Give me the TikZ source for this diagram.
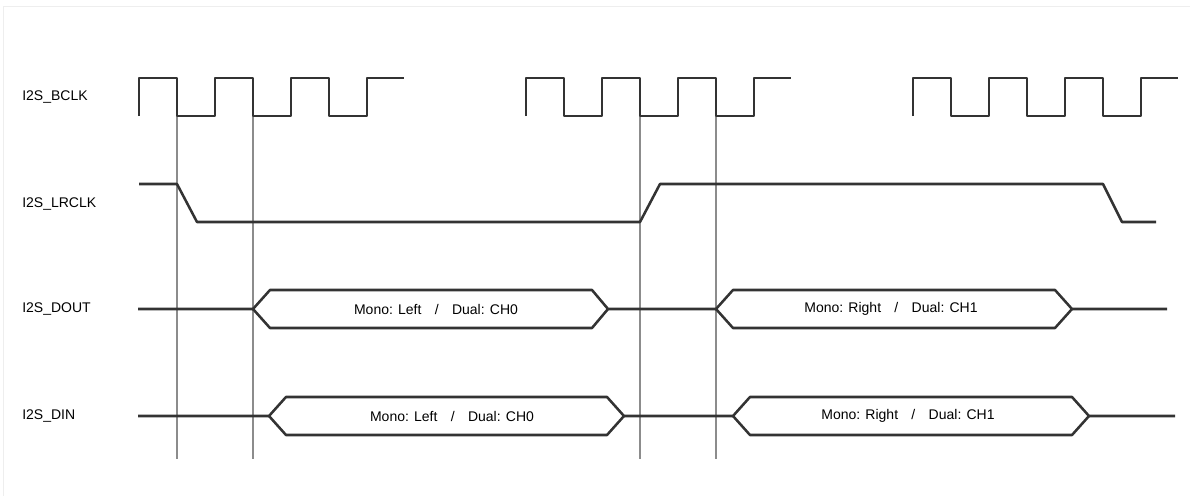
\documentclass[tikz,border=0pt]{standalone}
\usepackage{fontspec}
\setmainfont{Liberation Sans}
\definecolor{wavegray}{HTML}{333333}
\definecolor{guidegray}{HTML}{8C8C8C}
\definecolor{framegray}{HTML}{EEEEEE}
\tikzset{
  sig/.style={draw=wavegray,line width=1.9pt,line join=round},
  guideline/.style={draw=guidegray,line width=0.8pt},
  siglabel/.style={anchor=west,inner sep=0pt,font=\fontsize{10.5}{12}\selectfont},
  buslabel/.style={inner sep=0pt,font=\fontsize{10.5}{12}\selectfont}
}
\newcommand{\slashgap}{\hspace{10pt}/\hspace{10pt}}
\begin{document}
\begin{tikzpicture}[x=0.75pt,y=-0.75pt]
    \useasboundingbox (0,0) rectangle (1190,496);
    \draw[framegray,line width=0.75pt] (3,496) -- (3,6) -- (1190,6);

    % signal names
    \node[siglabel] (bclk) at (22,97) {I2S\_BCLK};
    \node[siglabel] (lrclk) at (22,204) {I2S\_LRCLK};
    \node[siglabel] (dout) at (22,309) {I2S\_DOUT};
    \node[siglabel] (din) at (22,416) {I2S\_DIN};

    % guide lines at the sampling edges
    \foreach \x in {177,253,640,716}
        \draw[guideline] (\x,116) -- (\x,459);

    % bit clock, three bursts
    \foreach \s in {139,526,913}
        \draw[sig] (\s,116) -- ++(0,-38) -- ++(38,0) -- ++(0,38) -- ++(38,0)
            -- ++(0,-38) -- ++(38,0) -- ++(0,38) -- ++(38,0)
            -- ++(0,-38) -- ++(38,0) -- ++(0,38) -- ++(38,0)
            -- ++(0,-38) -- ++(37,0);

    % word select
    \draw[sig] (139,184) -- (177,184) -- (197,222) -- (640,222) -- (660,184)
        -- (1103,184) -- (1122,222) -- (1156,222);

    % data out
    \draw[sig] (138,309) -- (253,309) -- (270,290) -- (592,290) -- (608,309)
        -- (716,309) -- (733,290) -- (1055,290) -- (1072,309) -- (1167,309);
    \draw[sig] (253,309) -- (270,328) -- (592,328) -- (608,309);
    \draw[sig] (716,309) -- (733,328) -- (1055,328) -- (1072,309);
    \node[buslabel] (dout0) at (436,309) {Mono: Left\slashgap Dual: CH0};
    \node[buslabel] (dout1) at (891,309) {Mono: Right\slashgap Dual: CH1};

    % data in
    \draw[sig] (138,416) -- (269,416) -- (286,397) -- (607,397) -- (624,416)
        -- (733,416) -- (750,397) -- (1072,397) -- (1089,416) -- (1175,416);
    \draw[sig] (269,416) -- (286,435) -- (607,435) -- (624,416);
    \draw[sig] (733,416) -- (750,435) -- (1072,435) -- (1089,416);
    \node[buslabel] (din0) at (452,416) {Mono: Left\slashgap Dual: CH0};
    \node[buslabel] (din1) at (908,416) {Mono: Right\slashgap Dual: CH1};

\end{tikzpicture}
\end{document}
